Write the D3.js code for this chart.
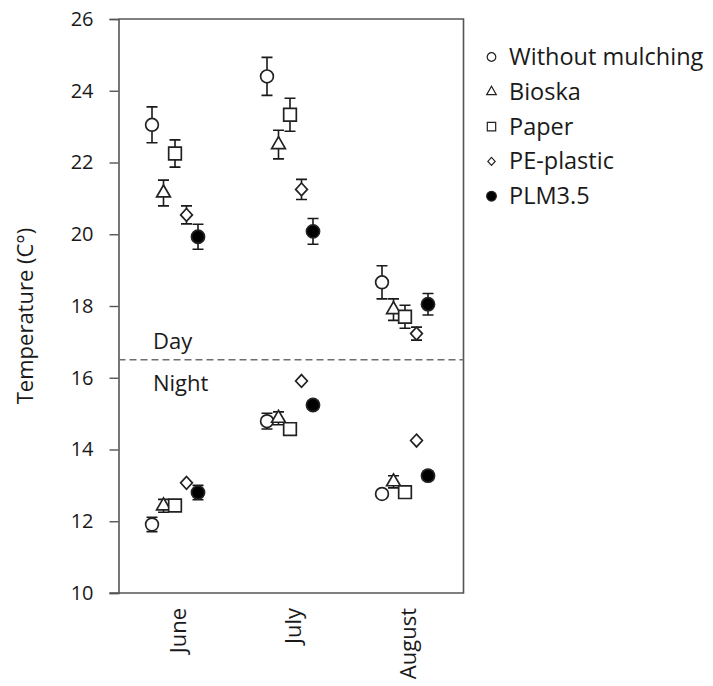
<!DOCTYPE html>
<html>
<head>
<meta charset="utf-8">
<script src="https://cdn.jsdelivr.net/npm/d3@7"></script>
<style>
  html, body { margin: 0; padding: 0; background: #fff; }
  svg { display: block; font-family: "Open Sans", sans-serif; }
</style>
</head>
<body>
<svg id="chart" width="713" height="686"></svg>
<script>
// ---- data ----
const months = ["June", "July", "August"];
const series = ["Without mulching", "Bioska", "Paper", "PE-plastic", "PLM3.5"];
// day means per series (rows: series, cols: months)
const dayMean = [
  [23.05, 24.40, 18.66],
  [21.15, 22.50, 17.90],
  [22.25, 23.33, 17.70],
  [20.54, 21.25, 17.23],
  [19.93, 20.08, 18.05]
];
const dayErr = [
  [0.50, 0.53, 0.46],
  [0.36, 0.40, 0.30],
  [0.38, 0.46, 0.32],
  [0.25, 0.28, 0.18],
  [0.35, 0.36, 0.30]
];
const nightMean = [
  [11.91, 14.79, 12.76],
  [12.43, 14.87, 13.10],
  [12.44, 14.57, 12.81],
  [13.07, 15.91, 14.25],
  [12.80, 15.24, 13.27]
];
const nightErr = [
  [0.20, 0.22, 0.08],
  [0.18, 0.18, 0.17],
  [0.08, 0.08, 0.08],
  [0.00, 0.00, 0.00],
  [0.20, 0.12, 0.12]
];
const yTicks = [10, 12, 14, 16, 18, 20, 22, 24, 26];
const dividerValue = 16.5;

// ---- layout ----
const svg = d3.select("#chart");
const mLeft = 118.5, mRight = 463.5, mTop = 19, mBottom = 593;
const y = d3.scaleLinear().domain([10, 26]).range([mBottom, mTop]);
const x = d3.scaleBand().domain(months).range([mLeft, mRight]);
const off = d3.scalePoint().domain(series).range([-24, 22]);
const axisColor = "#555";
const ink = "#1a1a1a";

// custom symbol shapes
const diamondType = { draw(ctx, size) { const h = Math.sqrt(size) / 2 * 1.1; const w = h * 0.92; ctx.moveTo(0, -h); ctx.lineTo(w, 0); ctx.lineTo(0, h); ctx.lineTo(-w, 0); ctx.closePath(); } };
const symTypes = [d3.symbolCircle, d3.symbolTriangle, d3.symbolSquare, diamondType, d3.symbolCircle];
const symSizes = [128, 82, 160, 135, 135];
const symFill = ["#fff", "#fff", "#fff", "#fff", "#000"];
const legSizes = [58, 40, 70, 52, 74];

// y axis
const yAxis = d3.axisLeft(y).tickValues(yTicks).tickSize(9).tickPadding(16).tickFormat(d3.format("d"));
const gy = svg.append("g").attr("transform", `translate(${mLeft},0)`).call(yAxis);
gy.select(".domain").attr("stroke", axisColor).attr("stroke-width", 1.6);
gy.selectAll(".tick line").attr("stroke", axisColor).attr("stroke-width", 1.4);
gy.selectAll(".tick text").attr("fill", ink).style("font-size", "20px").style("font-family", "'Open Sans', sans-serif");

// box (top, right, bottom)
svg.append("path")
  .attr("d", `M${mLeft},${mTop}H${mRight}V${mBottom}H${mLeft - 9}`)
  .attr("fill", "none").attr("stroke", axisColor).attr("stroke-width", 1.6);

// x labels
svg.append("g").selectAll("text").data(months).join("text")
  .attr("transform", d => `translate(${x(d) + x.bandwidth() / 2 + 10},${mBottom + 15}) rotate(-90)`)
  .attr("text-anchor", "end")
  .attr("fill", ink).style("font-size", "22px")
  .text(d => d);

// y title
svg.append("text")
  .attr("transform", `translate(33,316) rotate(-90)`)
  .attr("text-anchor", "middle")
  .attr("fill", ink).style("font-size", "22px")
  .text("Temperature (C°)");

// divider
svg.append("line")
  .attr("x1", mLeft).attr("x2", mRight)
  .attr("y1", y(dividerValue)).attr("y2", y(dividerValue))
  .attr("stroke", "#6e6e6e").attr("stroke-width", 1.6).attr("stroke-dasharray", "7,4");
svg.append("text").attr("x", 153).attr("y", y(dividerValue) - 11)
  .attr("fill", ink).style("font-size", "22px").text("Day");
svg.append("text").attr("x", 153).attr("y", y(dividerValue) + 31)
  .attr("fill", ink).style("font-size", "22px").text("Night");

// points
const pts = [];
series.forEach((s, si) => {
  months.forEach((m, mi) => {
    pts.push({ s, si, m, v: dayMean[si][mi], e: dayErr[si][mi] });
    pts.push({ s, si, m, v: nightMean[si][mi], e: nightErr[si][mi] });
  });
});
const cx = d => x(d.m) + x.bandwidth() / 2 + off(d.s);
const cap = 5.5;

const g = svg.append("g");
series.forEach((s, si) => {
  const data = pts.filter(p => p.si === si);
  const eb = g.append("g").attr("stroke", ink).attr("stroke-width", 1.6).attr("fill", "none");
  eb.selectAll("path").data(data.filter(d => d.e > 0)).join("path")
    .attr("d", d => {
      const x0 = cx(d), y1 = y(d.v + d.e), y2 = y(d.v - d.e);
      return `M${x0},${y1}V${y2}M${x0 - cap},${y1}H${x0 + cap}M${x0 - cap},${y2}H${x0 + cap}`;
    });
  g.append("g").selectAll("path").data(data).join("path")
    .attr("transform", d => `translate(${cx(d)},${y(d.v)})`)
    .attr("d", d3.symbol().type(symTypes[si]).size(symSizes[si]))
    .attr("fill", symFill[si]).attr("stroke", "#222").attr("stroke-width", 1.7);
});

// legend
const leg = svg.append("g");
series.forEach((s, i) => {
  const by = 65 + i * 34.8;
  leg.append("path")
    .attr("transform", `translate(491.5,${by - 8})`)
    .attr("d", d3.symbol().type(symTypes[i]).size(legSizes[i]))
    .attr("fill", symFill[i]).attr("stroke", "#222").attr("stroke-width", 1.2);
  leg.append("text").attr("x", 509).attr("y", by)
    .attr("fill", ink).style("font-size", "23.5px").text(s);
});
</script>
</body>
</html>
